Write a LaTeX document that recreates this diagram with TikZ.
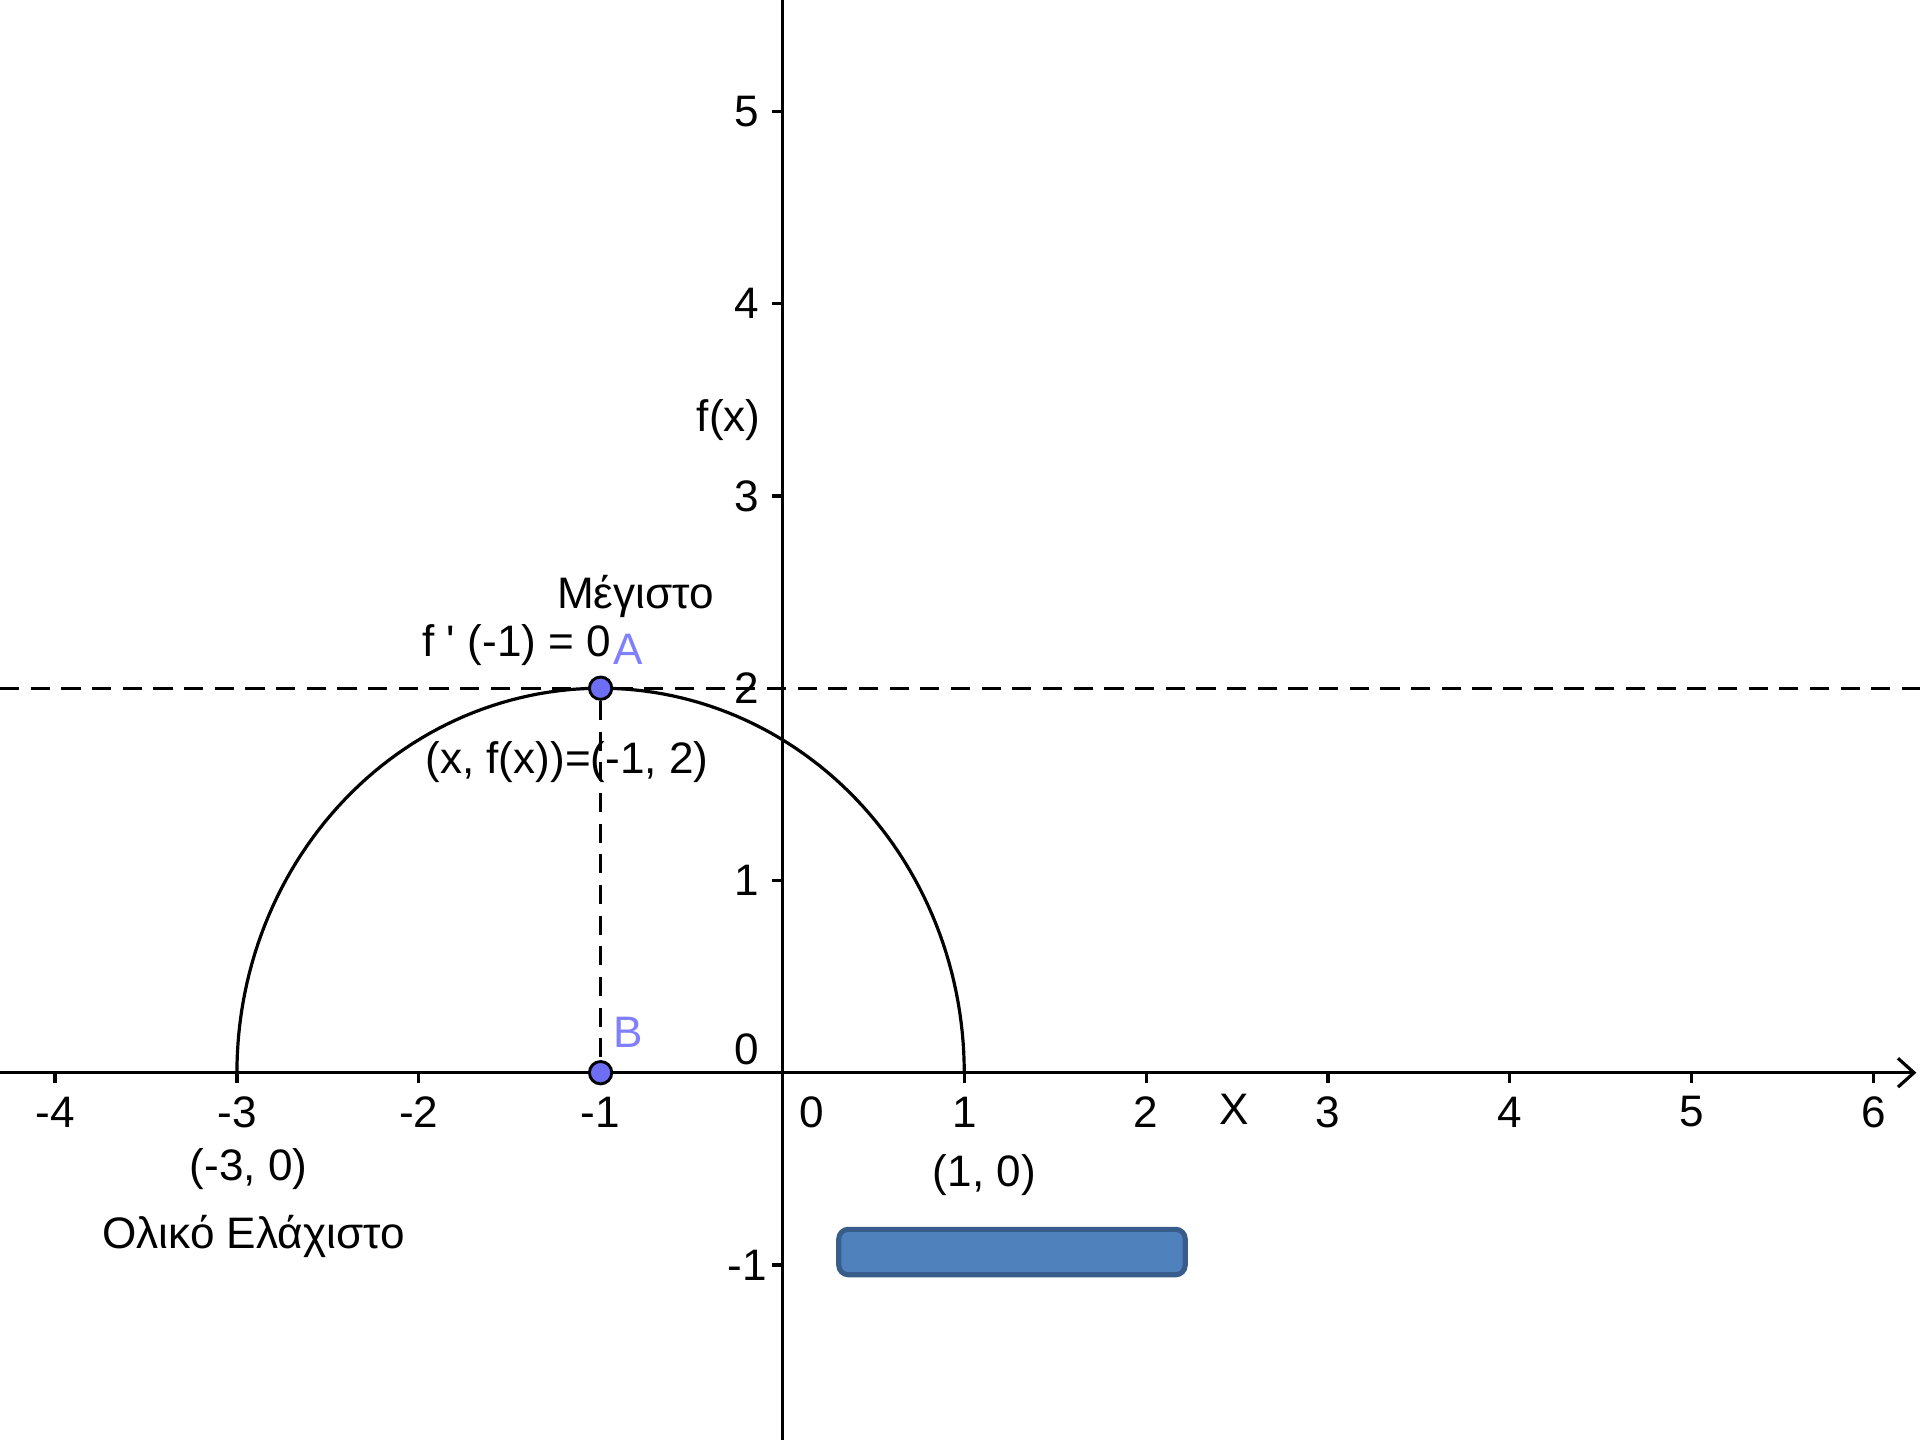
\documentclass[tikz,border=0pt]{standalone}
\usepackage{fontspec}
\setmainfont{Liberation Sans}
\usetikzlibrary{arrows.meta,positioning}
\definecolor{ptblue}{RGB}{110,110,245}
\definecolor{lblblue}{RGB}{128,128,255}
\definecolor{boxfill}{RGB}{79,129,189}
\definecolor{boxline}{RGB}{56,93,138}

\begin{document}
\begin{tikzpicture}[x=2cm,y=2.1144cm,
		lbl/.style={font=\fontsize{13.8}{16}\selectfont,inner sep=0pt},
		ptlbl/.style={lbl,text=lblblue},
		guide/.style={dash pattern=on 6pt off 3.6pt,line width=0.9pt},
		axis/.style={line width=1pt},
		pt/.style={circle,draw=black,fill=ptblue,line width=0.9pt,
			minimum size=7pt,inner sep=0pt}]
		
		\useasboundingbox
		(-4.303,-1.911) rectangle (6.256,5.58);
		
		% dashed line y = 2
		\coordinate (hl) at (-4.303,2);
		\coordinate (hr) at (6.256,2);
		\draw[guide]
		(hl) -- (hr);
		
		% axes
		\coordinate (xl) at (-4.303,0);
		\coordinate (xr) at (6.236,0);
		\coordinate (yb) at (0,-1.911);
		\coordinate (yt) at (0,5.58);
		\draw[axis,-{Straight Barb[length=5pt,width=9pt]}]
		(xl) -- (xr);
		\draw[axis]
		(yb) -- (yt);
		
		\foreach \i in {-4,-3,-2,-1,1,2,3,4,5,6}{
			\draw[axis] (\i,0) -- (\i,-0.055);
			\node[lbl] at (\i,-0.204) {\i};
		}
		\foreach \j in {-1,1,2,3,4,5}{
			\draw[axis] (0,\j) -- (-0.06,\j);
			\node[lbl] at (-0.195,\j) {\j};
		}
		\node[lbl] (y0) at (-0.195,0.121) {0};
		\node[lbl] (x0) at (0.162,-0.204) {0};
		
		\node[lbl] (xname) at (2.485,-0.191) {X};
		\node[lbl] (fname) at (-0.296,3.395) {f(x)};
		
		% upper half of the circle
		\draw[axis]
		plot[domain=0:180,samples=120] ({-1+2*cos(\x)},{2*sin(\x)});
		
		\node[pt] (A) at (-1,2) {};
		\node[pt] (B) at (-1,0) {};
		\draw[guide]
		(A) -- (B);
		
		\node[ptlbl] (lA) at (-0.848,2.204) {A};
		\node[ptlbl] (lB) at (-0.848,0.210) {B};
		
		\node[lbl] (max) at (-0.808,2.478) {Μέγιστο};
		\node[lbl] (deriv) at (-1.461,2.223) {f \textquotesingle{} (-1) = 0};
		\node[lbl] (coord) at (-1.185,1.618) {(x, f(x))=(-1, 2)};
		
		\node[lbl] (left) at (-2.936,-0.503) {(-3, 0)};
		\node[lbl] (minlbl) at (-2.909,-0.854) {Ολικό Ελάχιστο};
		\node[lbl] (right) at (1.111,-0.535) {(1, 0)};
		
		\node[draw=boxline,fill=boxfill,rounded corners=3pt,line width=1.6pt,
			minimum width=3.81cm,minimum height=0.5cm,inner sep=0pt]
		(box) at (1.2625,-0.933) {};
		
	\end{tikzpicture}
\end{document}
